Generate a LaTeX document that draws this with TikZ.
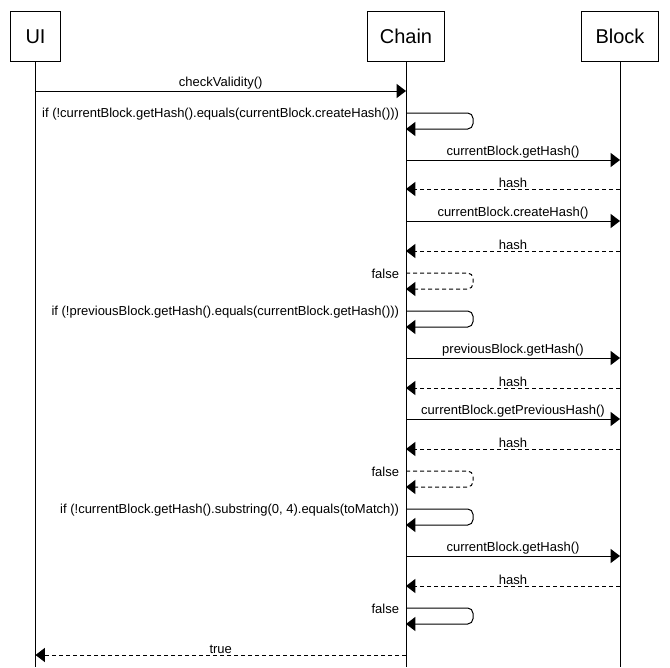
\documentclass[tikz,border=0pt]{standalone}
\usepackage{fontspec}
\setmainfont{Liberation Sans}
\usetikzlibrary{arrows.meta, positioning}

\begin{document}
\begin{tikzpicture}[
    x=0.75pt, y=-0.75pt,
    head/.style={rectangle, draw, line width=0.75pt, minimum height=37.5pt, minimum width=#1, font=\fontsize{15}{18}\selectfont, inner sep=0pt},
    head/.default=58pt,
    life/.style={line width=0.75pt},
    msg/.style={-{Triangle[length=7pt, width=10.5pt]}, line width=0.75pt},
    ret/.style={msg, dash pattern=on 3pt off 2.25pt},
    selfmsg/.style={msg, rounded corners=4pt},
    lbl/.style={font=\fontsize{9.75}{11}\selectfont, inner sep=1pt}
]
\useasboundingbox (0,0) rectangle (670,667);

% Participants
\node[head=38pt] (ui) at (35.5,36.5) {UI};
\node[head] (chain) at (406,36.5) {Chain};
\node[head=57.5pt] (block) at (620,36.5) {Block};

% Lifelines
\coordinate (bottom) at (0,667);
\draw[life] (ui) -- (ui |- bottom);
\draw[life] (chain) -- (chain |- bottom);
\draw[life] (block) -- (block |- bottom);

% Message rows
\foreach \n/\y in {1/91, 2/113, 3/160, 4/189, 5/221, 6/251, 7/273, 8/311, 9/358,
                   10/388, 11/419, 12/449, 13/471, 14/509, 15/556, 16/586, 17/608, 18/655}
    \coordinate (r\n) at (0,\y);

% Messages
\draw[msg] (ui |- r1) -- node[lbl, above] (l1) {checkValidity()} (chain |- r1);
\draw[selfmsg] (chain |- r2) -- ++(67,0) -- ++(0,16) -- ++(-67,0);
\node[lbl, left=4pt of chain |- r2, yshift=-1pt] (l2) {if (!currentBlock.getHash().equals(currentBlock.createHash()))};
\draw[msg] (chain |- r3) -- node[lbl, above] (l3) {currentBlock.getHash()} (block |- r3);
\draw[ret] (block |- r4) -- node[lbl, above] (l4) {hash} (chain |- r4);
\draw[msg] (chain |- r5) -- node[lbl, above] (l5) {currentBlock.createHash()} (block |- r5);
\draw[ret] (block |- r6) -- node[lbl, above] (l6) {hash} (chain |- r6);
\draw[selfmsg, dash pattern=on 3pt off 2.25pt] (chain |- r7) -- ++(67,0) -- ++(0,16) -- ++(-67,0);
\node[lbl, left=4pt of chain |- r7, yshift=-1pt] (l7) {false};

\draw[selfmsg] (chain |- r8) -- ++(67,0) -- ++(0,16) -- ++(-67,0);
\node[lbl, left=4pt of chain |- r8, yshift=-1pt] (l8) {if (!previousBlock.getHash().equals(currentBlock.getHash()))};
\draw[msg] (chain |- r9) -- node[lbl, above] (l9) {previousBlock.getHash()} (block |- r9);
\draw[ret] (block |- r10) -- node[lbl, above] (l10) {hash} (chain |- r10);
\draw[msg] (chain |- r11) -- node[lbl, above] (l11) {currentBlock.getPreviousHash()} (block |- r11);
\draw[ret] (block |- r12) -- node[lbl, above] (l12) {hash} (chain |- r12);
\draw[selfmsg, dash pattern=on 3pt off 2.25pt] (chain |- r13) -- ++(67,0) -- ++(0,16) -- ++(-67,0);
\node[lbl, left=4pt of chain |- r13, yshift=-1pt] (l13) {false};

\draw[selfmsg] (chain |- r14) -- ++(67,0) -- ++(0,16) -- ++(-67,0);
\node[lbl, left=4pt of chain |- r14, yshift=-1pt] (l14) {if (!currentBlock.getHash().substring(0, 4).equals(toMatch))};
\draw[msg] (chain |- r15) -- node[lbl, above] (l15) {currentBlock.getHash()} (block |- r15);
\draw[ret] (block |- r16) -- node[lbl, above] (l16) {hash} (chain |- r16);
\draw[selfmsg] (chain |- r17) -- ++(67,0) -- ++(0,16) -- ++(-67,0);
\node[lbl, left=4pt of chain |- r17, yshift=-1pt] (l17) {false};

% Result
\draw[ret] (chain |- r18) -- node[lbl, above] (l18) {true} (ui |- r18);
\end{tikzpicture}
\end{document}
